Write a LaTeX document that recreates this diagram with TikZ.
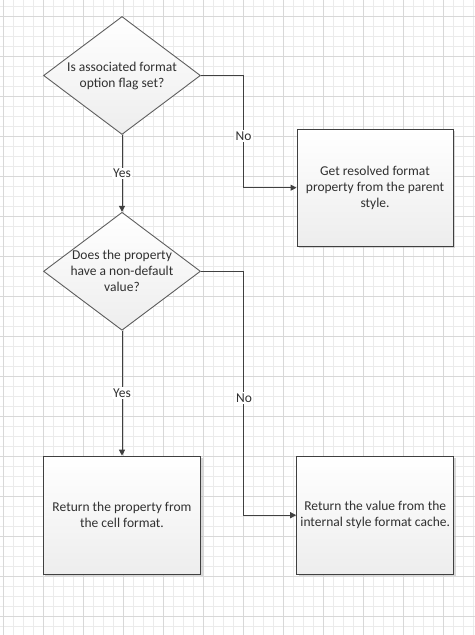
\documentclass[tikz,border=0pt]{standalone}
\usepackage{fontspec}
\setmainfont{Carlito}
\usetikzlibrary{shapes.geometric,arrows.meta,shadows}

\definecolor{rejilla}{HTML}{EBEBEB}
\definecolor{rejillafuerte}{HTML}{D8D8D8}
\definecolor{linea}{HTML}{404040}
\definecolor{texto}{HTML}{303030}

\tikzset{
  pregunta/.style={diamond, draw=linea!85, line width=0.9bp, top color=white, bottom color=black!7,
    minimum width=157bp, minimum height=118bp, aspect=1.33, inner sep=-10bp, align=center, text=texto},
  caja/.style={rectangle, draw=linea, line width=1bp, top color=white, bottom color=black!7,
    minimum width=157bp, minimum height=118bp, inner sep=0pt, align=center, text=texto,
    drop shadow={shadow xshift=2bp, shadow yshift=-2bp, fill=black!30, opacity=0.5}},
  flecha/.style={draw=linea, line width=1bp, -{Triangle[length=6bp,width=6bp]}},
  etiqueta/.style={fill=white, inner sep=1.5bp, text=texto},
}

\begin{document}
\begin{tikzpicture}[x=1bp, y=-1bp, every node/.style={font=\fontsize{13.5bp}{16bp}\selectfont}]
    \useasboundingbox (0,0) rectangle (475,635);

    % Rejilla
    \foreach \x in {3,13,...,473} \draw[rejilla, line width=0.8bp] (\x,0) -- (\x,635);
    \foreach \y in {6,16,...,626} \draw[rejilla, line width=0.8bp] (0,\y) -- (475,\y);
    \foreach \x in {3,43,...,443} \draw[rejillafuerte, line width=0.8bp] (\x,0) -- (\x,635);
    \foreach \y in {16,56,...,616} \draw[rejillafuerte, line width=0.8bp] (0,\y) -- (475,\y);

    % Preguntas
    \node[pregunta] (q1) at (122,75.5) {Is associated format\\option flag set?};
    \node[pregunta] (q2) at (122,271.3) {Does the property\\have a non-default\\value?};

    % Acciones
    \node[caja, minimum width=156bp, minimum height=117bp] (get) at (375,187.7) {Get resolved format\\property from the parent\\style.};
    \node[caja] (ret) at (122,515.2) {Return the property from\\the cell format.};
    \node[caja] (cache) at (375.2,515.2) {Return the value from the\\internal style format cache.};

    % Conectores
    \draw[flecha] (q1.south) -- (q2.north) node[etiqueta, midway] {Yes};
    \draw[flecha] (q1.east) -- ++(42.5,0) |- (get.west) node[etiqueta, pos=0.27] {No};
    \draw[flecha] (q2.south) -- (ret.north) node[etiqueta, midway] {Yes};
    \draw[flecha] (q2.east) -- ++(43,0) |- (cache.west) node[etiqueta, pos=0.26] {No};
\end{tikzpicture}
\end{document}
